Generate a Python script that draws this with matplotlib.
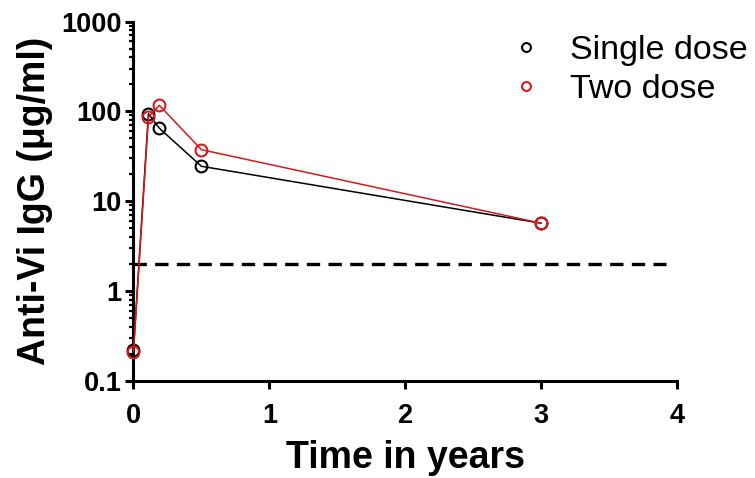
import numpy as np
import matplotlib.pyplot as plt
from matplotlib.ticker import LogLocator, NullFormatter, FixedFormatter, FixedLocator

# values
years = [0, 0.11, 0.19, 0.5, 3]
single_dose = [0.22, 94, 65, 24.5, 5.7]
two_dose = [0.21, 86, 117, 37.5, 5.7]
threshold = 2.0
threshold_end = 3.92

y_ticks = [0.1, 1, 10, 100, 1000]
y_tick_labels = ["0.1", "1", "10", "100", "1000"]
x_ticks = [0, 1, 2, 3, 4]

plt.rcParams['font.family'] = ['Liberation Sans', 'DejaVu Sans']

fig = plt.figure(figsize=(7.55, 4.78), dpi=100)
ax = fig.add_axes([0.1768, 0.2029, 0.7199, 0.7521])

ax.plot(years, single_dose, color="black", lw=1.1, marker="o", ms=8.5,
	mfc="none", mec="black", mew=1.5, clip_on=False, zorder=3, label="Single dose")
ax.plot(years, two_dose, color="#d7191c", lw=1.1, marker="o", ms=8.5,
	mfc="none", mec="#d7191c", mew=1.5, clip_on=False, zorder=4, label="Two dose")

ax.hlines(threshold, 0, threshold_end, colors="black", lw=2.4,
	linestyles=(0, (4.0, 2.5)), zorder=2)

ax.set_yscale("log")
ax.set_ylim(0.1, 1000)
ax.set_xlim(0, 4)

ax.yaxis.set_major_locator(FixedLocator(y_ticks))
ax.yaxis.set_major_formatter(FixedFormatter(y_tick_labels))
ax.yaxis.set_minor_locator(LogLocator(base=10, subs=np.arange(2, 10)))
ax.yaxis.set_minor_formatter(NullFormatter())
ax.set_xticks(x_ticks)

for side in ["top", "right"]:
	ax.spines[side].set_visible(False)
for side in ["left", "bottom"]:
	ax.spines[side].set_linewidth(2.2)

ax.tick_params(which="major", direction="out", length=5.5, width=2.2, labelsize=19.5)
ax.tick_params(axis="x", which="major", pad=10)
ax.tick_params(axis="y", which="major", pad=3)
ax.tick_params(which="minor", direction="out", length=3, width=1.6)
for lab in ax.get_xticklabels() + ax.get_yticklabels():
	lab.set_fontweight("bold")

ax.set_xlabel("Time in years", fontsize=27, fontweight="bold", labelpad=8)
ax.set_ylabel("Anti-Vi IgG (\u03bcg/ml)", fontsize=27, fontweight="bold", labelpad=6)

leg = ax.legend(loc="upper left", bbox_to_anchor=(526 / 755, 1 - 35 / 478),
	bbox_transform=fig.transFigure, frameon=False, fontsize=24.5,
	handlelength=0, handletextpad=1.3, markerscale=0.75,
	labelspacing=0.24, borderaxespad=0, borderpad=0)
for h in leg.legend_handles:
	h.set_linestyle("none")

fig.savefig("out.png", dpi=100)
